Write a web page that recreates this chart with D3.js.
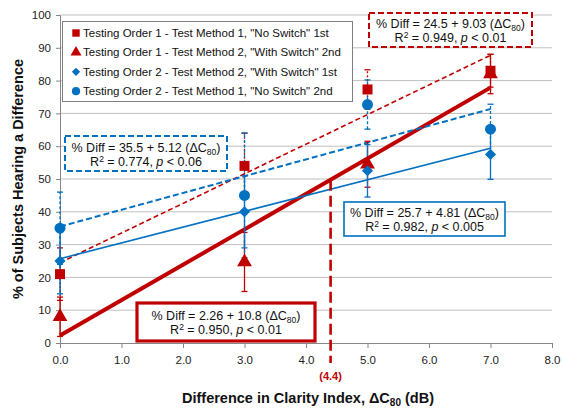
<!DOCTYPE html>
<html>
<head>
<meta charset="utf-8">
<script src="https://cdn.jsdelivr.net/npm/d3@7/dist/d3.min.js"></script>
<style>
  html, body { margin: 0; padding: 0; background: #fff; }
  svg { display: block; font-family: "Liberation Sans", Arial, sans-serif; }
</style>
</head>
<body>
<svg id="chart" width="563" height="409"></svg>
<script>
// ΔC80 levels tested (dB)
const deltaC80 = [0, 3, 5, 7];

// % of subjects hearing a difference, per series
const order1Method1 = [21, 54, 77.3, 83];     // "No Switch" 1st
const order1Method2 = [8, 24.7, 54.5, 82];    // "With Switch" 2nd
const order2Method2 = [25, 40, 52.5, 57.5];   // "With Switch" 1st
const order2Method1 = [35, 45, 72.7, 65.2];   // "No Switch" 2nd

// error bar half-widths
const order1Method1Err = [8, 10, 6, 5];
const order1Method2Err = [6, 9, 7, 6];
const order2Method2Err = [10, 11, 8, 7.6];
const order2Method1Err = [11, 19, 7.5, 7.6];

const seriesNames = [
  'Testing Order 1 - Test Method 1, "No Switch" 1st',
  'Testing Order 1 - Test Method 2, "With Switch" 2nd',
  'Testing Order 2 - Test Method 2, "With Switch" 1st',
  'Testing Order 2 - Test Method 1, "No Switch" 2nd'
];

// linear fits: [intercept, slope]
const fitIntercepts = [24.5, 2.26, 25.7, 35.5];
const fitSlopes = [9.03, 10.8, 4.81, 5.12];
const fitR2 = ["0.949", "0.950", "0.982", "0.774"];
const fitP = ["0.01", "0.01", "0.005", "0.06"];

const xTicks = [0, 1, 2, 3, 4, 5, 6, 7, 8];
const yTicks = [0, 10, 20, 30, 40, 50, 60, 70, 80, 90, 100];
const thresholdX = 4.4;

const RED = "#c00000", BLUE = "#0070c0";

const svg = d3.select("#chart");
const margin = { left: 60, right: 11, top: 15, bottom: 66 };
const W = 563, H = 409;
const x = d3.scaleLinear().domain([0, 8]).range([margin.left, W - margin.right]);
const y = d3.scaleLinear().domain([0, 100]).range([H - margin.bottom, margin.top]);

// horizontal gridlines
svg.append("g").selectAll("line").data(yTicks.slice(1)).join("line")
  .attr("x1", x(0)).attr("x2", x(8))
  .attr("y1", d => y(d)).attr("y2", d => y(d))
  .attr("stroke", "#bfbfbf").attr("stroke-width", 1);

// axes
const xAxis = svg.append("g").attr("transform", `translate(0,${y(0)})`)
  .call(d3.axisBottom(x).tickValues(xTicks).tickFormat(d3.format(".1f")).tickSize(5).tickPadding(8));
const yAxis = svg.append("g").attr("transform", `translate(${x(0)},0)`)
  .call(d3.axisLeft(y).tickValues(yTicks).tickSize(4).tickPadding(5));
[xAxis, yAxis].forEach(g => {
  g.select(".domain").attr("stroke", "#868686");
  g.selectAll(".tick line").attr("stroke", "#868686");
  g.selectAll(".tick text").attr("font-size", 11.5).attr("fill", "#222")
    .attr("font-family", "Liberation Sans, Arial, sans-serif");
});

// series styles (diamond = square turned 45°)
const series = [
  { vals: order1Method1, err: order1Method1Err, color: RED, sym: d3.symbolSquare, size: 100, rot: 0, errDash: "2,2", fitDash: "5,3", fitW: 1.6 },
  { vals: order1Method2, err: order1Method2Err, color: RED, sym: d3.symbolTriangle, size: 95, rot: 0, errDash: null, fitDash: null, fitW: 4 },
  { vals: order2Method2, err: order2Method2Err, color: BLUE, sym: d3.symbolSquare, size: 62, rot: 45, errDash: null, fitDash: null, fitW: 1.6 },
  { vals: order2Method1, err: order2Method1Err, color: BLUE, sym: d3.symbolCircle, size: 95, rot: 0, errDash: "3,2", fitDash: "6,3", fitW: 2 }
];

// fit lines
const fitLine = d3.line().x(d => x(d[0])).y(d => y(d[1]));
series.forEach((s, i) => {
  const pts = [0, 7].map(v => [v, fitIntercepts[i] + fitSlopes[i] * v]);
  svg.append("path").attr("d", fitLine(pts)).attr("fill", "none")
    .attr("stroke", s.color).attr("stroke-width", s.fitW)
    .attr("stroke-dasharray", s.fitDash);
});

// error bars
series.forEach(s => {
  const g = svg.append("g").attr("stroke", s.color).attr("stroke-width", 1.3);
  deltaC80.forEach((dx, j) => {
    const lo = s.vals[j] - s.err[j], hi = s.vals[j] + s.err[j];
    g.append("line").attr("x1", x(dx)).attr("x2", x(dx))
      .attr("y1", y(lo)).attr("y2", y(hi)).attr("stroke-dasharray", s.errDash);
    [lo, hi].forEach(v => g.append("line")
      .attr("x1", x(dx) - 3).attr("x2", x(dx) + 3)
      .attr("y1", y(v)).attr("y2", y(v)));
  });
});

// markers
series.forEach(s => {
  svg.append("g").selectAll("path").data(s.vals).join("path")
    .attr("d", d3.symbol().type(s.sym).size(s.size))
    .attr("transform", (d, j) => `translate(${x(deltaC80[j])},${y(d)}) rotate(${s.rot})`)
    .attr("fill", s.color);
});

// threshold marker at ΔC80 = 4.4
const threshY = fitIntercepts[1] + fitSlopes[1] * thresholdX;
svg.append("line").attr("x1", x(thresholdX)).attr("x2", x(thresholdX))
  .attr("y1", y(threshY)).attr("y2", y(0) + 20)
  .attr("stroke", RED).attr("stroke-width", 2.6).attr("stroke-dasharray", "11,5");
svg.append("text").attr("x", x(thresholdX)).attr("y", y(0) + 37)
  .attr("text-anchor", "middle").attr("font-size", 11).attr("font-weight", "bold")
  .attr("fill", RED).text(`(${thresholdX})`);

// legend
const legend = svg.append("g");
legend.append("rect").attr("x", 62.5).attr("y", 21.5).attr("width", 290).attr("height", 80)
  .attr("fill", "#fff").attr("stroke", "#7f7f7f").attr("stroke-width", 1);
series.forEach((s, i) => {
  const ly = 33 + i * 19.4;
  legend.append("path")
    .attr("d", d3.symbol().type(s.sym).size(s.size * 0.55))
    .attr("transform", `translate(76,${ly}) rotate(${s.rot})`).attr("fill", s.color);
  legend.append("text").attr("x", 83).attr("y", ly + 4)
    .attr("font-size", 11.5).attr("fill", "#111")
    .text(seriesNames[i]);
});

// equation boxes
function eqBox(i, bx, by, bw, bh, stroke, sw, dash) {
  const g = svg.append("g");
  g.append("rect").attr("x", bx).attr("y", by).attr("width", bw).attr("height", bh)
    .attr("fill", "#fff").attr("stroke", stroke).attr("stroke-width", sw)
    .attr("stroke-dasharray", dash);
  const cx = bx + bw / 2;
  const t1 = g.append("text").attr("x", cx).attr("y", by + bh / 2 - 2)
    .attr("text-anchor", "middle").attr("font-size", 12.5).attr("fill", "#111");
  t1.append("tspan").text(`% Diff = ${fitIntercepts[i]} + ${fitSlopes[i]} (\u0394C`);
  t1.append("tspan").attr("font-size", 8.5).attr("dy", 3).text("80");
  t1.append("tspan").attr("dy", -3).text(")");
  const t2 = g.append("text").attr("x", cx).attr("y", by + bh / 2 + 12)
    .attr("text-anchor", "middle").attr("font-size", 12.5).attr("fill", "#111");
  t2.append("tspan").text("R");
  t2.append("tspan").attr("font-size", 8.5).attr("dy", -4).text("2");
  t2.append("tspan").attr("dy", 4).text(` = ${fitR2[i]}, `);
  t2.append("tspan").attr("font-style", "italic").text("p");
  t2.append("tspan").text(` < ${fitP[i]}`);
}
eqBox(0, 369, 13, 163, 34, RED, 2, "6,3");
eqBox(3, 65, 136, 162, 35, BLUE, 2, "6,3");
eqBox(2, 344, 202, 161, 34, BLUE, 1.6, null);
eqBox(1, 137, 303, 178, 38, RED, 3.2, null);

// axis titles
svg.append("text").attr("transform", `translate(23,${(y(0) + y(100)) / 2}) rotate(-90)`)
  .attr("text-anchor", "middle").attr("font-size", 14.5).attr("font-weight", "bold")
  .attr("fill", "#111").text("% of Subjects Hearing a Difference");
const xt = svg.append("text").attr("x", 308).attr("y", 403)
  .attr("text-anchor", "middle").attr("font-size", 14.5).attr("font-weight", "bold").attr("fill", "#111");
xt.append("tspan").text("Difference in Clarity Index, \u0394C");
xt.append("tspan").attr("font-size", 10).attr("dy", 3).text("80");
xt.append("tspan").attr("dy", -3).text(" (dB)");
</script>
</body>
</html>
